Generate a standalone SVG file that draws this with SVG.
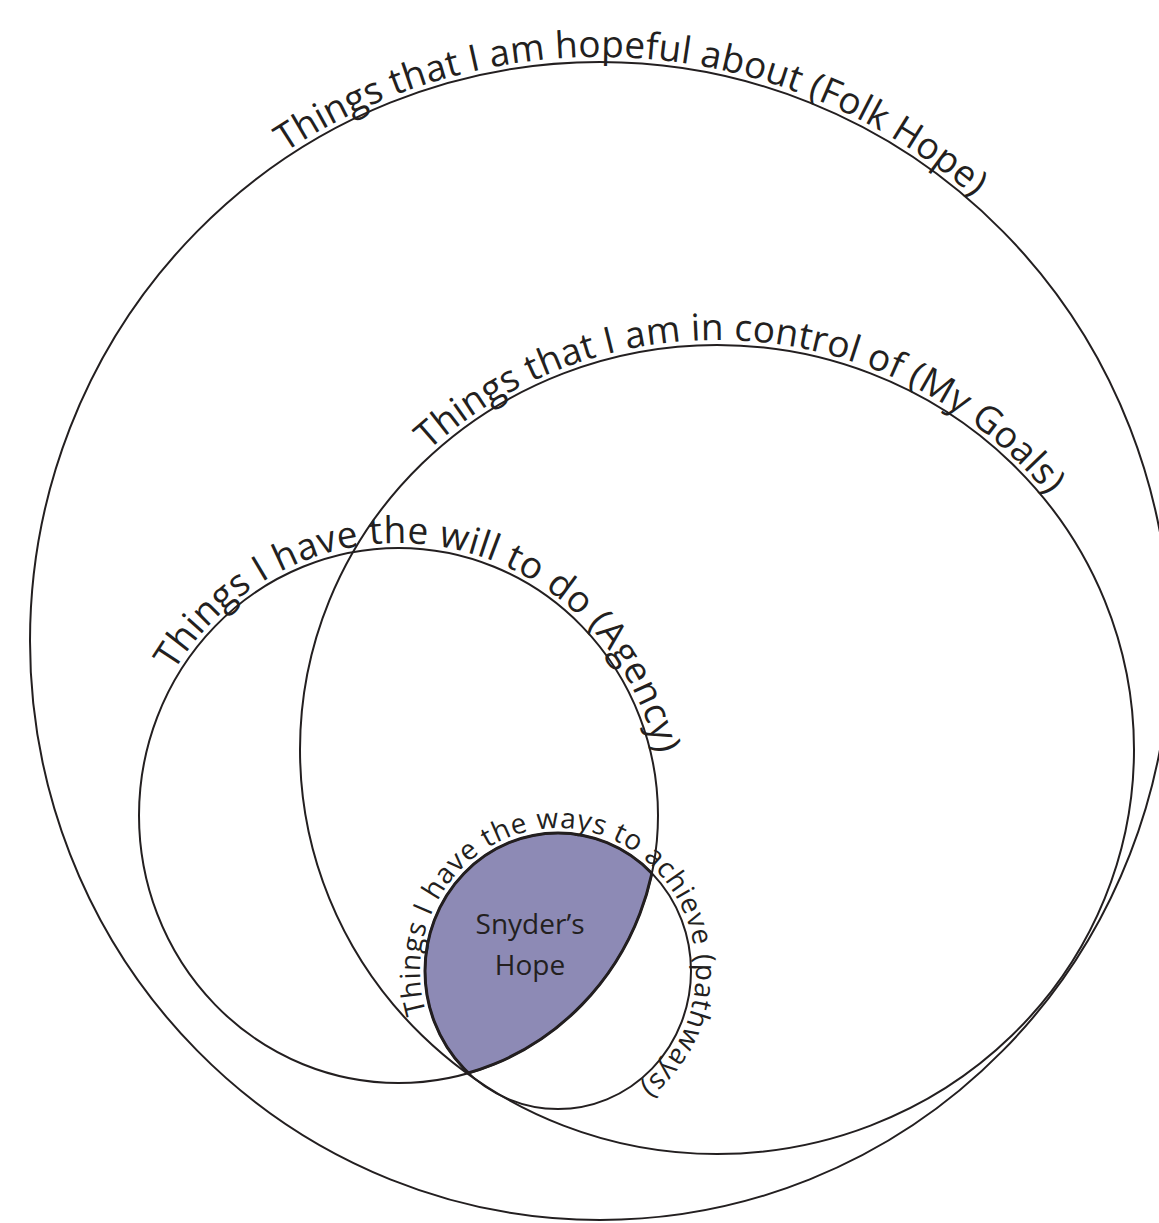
<svg xmlns="http://www.w3.org/2000/svg" xmlns:xlink="http://www.w3.org/1999/xlink" width="1159" height="1223" viewBox="0 0 1159 1223">
  <style>
    .ring { fill: none; stroke: #231F20; stroke-width: 2; }
    .thick { fill: none; stroke: #231F20; stroke-width: 3; }
    .lbl { font-family: "Open Sans", "Noto Sans", "Liberation Sans", sans-serif; fill: #231F20; }
    .big { font-size: 37px; }
    .small { font-size: 28px; }
    .center { font-size: 28px; text-anchor: middle; }
  </style>
  <defs>
    <clipPath id="clipAgency"><ellipse cx="398.5" cy="815.5" rx="259.5" ry="267.5"/></clipPath>
    <clipPath id="clipGoals"><ellipse cx="717" cy="749.5" rx="417" ry="404.5"/></clipPath>
    <clipPath id="clipPath"><ellipse cx="558" cy="971" rx="133" ry="138"/></clipPath>
    <path id="pFolk" d="M600,1225 A575,584 0 1 1 600,57 A575,584 0 1 1 600,1225"/>
    <path id="pGoals" d="M717,1159 A422,409.5 0 1 1 717,340 A422,409.5 0 1 1 717,1159"/>
    <path id="pAgency" d="M398.5,1088 A264.5,272.5 0 1 1 398.5,543 A264.5,272.5 0 1 1 398.5,1088"/>
    <path id="pPath" d="M558,1114 A138,143 0 1 1 558,828 A138,143 0 1 1 558,1114"/>
  </defs>

  <g id="snyders-hope">
    <g clip-path="url(#clipGoals)">
      <g clip-path="url(#clipAgency)">
        <ellipse cx="558" cy="971" rx="133" ry="138" fill="#8D8AB5"/>
        <ellipse class="thick" cx="558" cy="971" rx="133" ry="138"/>
      </g>
      <g clip-path="url(#clipPath)">
        <ellipse class="thick" cx="398.5" cy="815.5" rx="259.5" ry="267.5"/>
      </g>
    </g>
    <text class="lbl center" x="530" y="934">Snyder’s</text>
    <text class="lbl center" x="530" y="975">Hope</text>
  </g>

  <g id="folk-hope">
    <ellipse class="ring" cx="600" cy="641" rx="570" ry="579"/>
    <text class="lbl big" text-anchor="middle"><textPath xlink:href="#pFolk" href="#pFolk" startOffset="1858" textLength="742" lengthAdjust="spacing">Things that I am hopeful about (Folk Hope)</textPath></text>
  </g>

  <g id="my-goals">
    <ellipse class="ring" cx="717" cy="749.5" rx="417" ry="404.5"/>
    <text class="lbl big" text-anchor="middle"><textPath xlink:href="#pGoals" href="#pGoals" startOffset="1337" textLength="694" lengthAdjust="spacing">Things that I am in control of (My Goals)</textPath></text>
  </g>

  <g id="agency">
    <ellipse class="ring" cx="398.5" cy="815.5" rx="259.5" ry="267.5"/>
    <text class="lbl big" text-anchor="middle"><textPath xlink:href="#pAgency" href="#pAgency" startOffset="888" textLength="630" lengthAdjust="spacing">Things I have the will to do (Agency)</textPath></text>
  </g>

  <g id="pathways">
    <ellipse class="ring" cx="558" cy="971" rx="133" ry="138"/>
    <text class="lbl small" text-anchor="middle"><textPath xlink:href="#pPath" href="#pPath" startOffset="486" textLength="616" lengthAdjust="spacing">Things I have the ways to achieve (pathways)</textPath></text>
  </g>

  <g id="connectors"></g>
</svg>
